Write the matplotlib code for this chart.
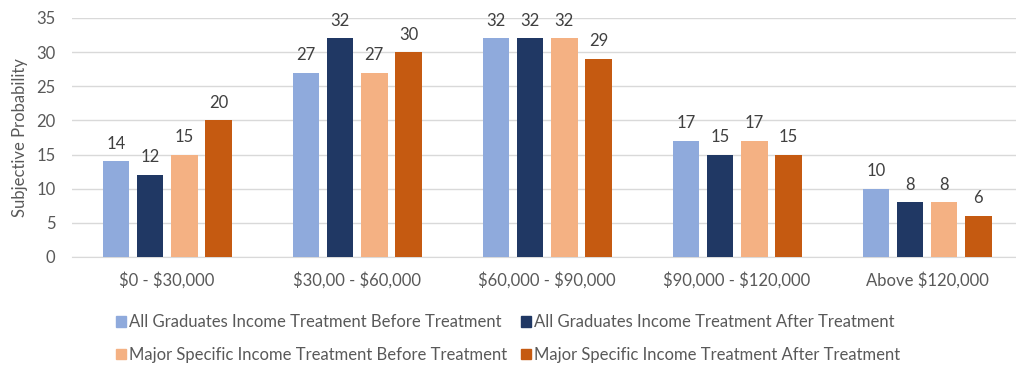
import numpy as np
import matplotlib.pyplot as plt
from matplotlib.patches import Patch

categories = ["$0 - $30,000", "$30,00 - $60,000", "$60,000 - $90,000",
              "$90,000 - $120,000", "Above $120,000"]
series_names = ["All Graduates Income Treatment Before Treatment",
                "All Graduates Income Treatment After Treatment",
                "Major Specific Income Treatment Before Treatment",
                "Major Specific Income Treatment After Treatment"]
all_before = [14, 27, 32, 17, 10]
all_after = [12, 32, 32, 15, 8]
major_before = [15, 27, 32, 17, 8]
major_after = [20, 30, 29, 15, 6]
colors = ["#8FAADC", "#203864", "#F4B183", "#C55A11"]

plt.rcParams['font.family'] = ['Lato', 'DejaVu Sans']
text_color = "#595959"
fs = 12

fig = plt.figure(figsize=(10.16, 3.67), dpi=100)
ax = fig.add_axes([0.071, 0.30, 0.935, 0.651])

x = np.arange(len(categories))
width = 0.14
step = 0.18
for i, (vals, name, c) in enumerate(zip([all_before, all_after, major_before, major_after],
                                        series_names, colors)):
    pos = x + (i - 1.5) * step
    bars = ax.bar(pos, vals, width, color=c, label=name, zorder=3)
    for b, v in zip(bars, vals):
        ax.text(b.get_x() + b.get_width() / 2, v + 1.4, str(v), ha="center", va="bottom",
                fontsize=fs, color="#404040")

ax.set_xlim(-0.5, len(categories) - 0.5)
ax.set_ylim(0, 35)
ax.set_yticks(range(0, 36, 5))
ax.set_xticks(x)
ax.set_xticklabels([c.replace("$", r"\$") for c in categories])
ax.tick_params(axis="both", length=0, labelsize=fs, labelcolor=text_color)
ax.tick_params(axis="x", pad=11)
ax.tick_params(axis="y", pad=12)
ax.set_ylabel("Subjective Probability", fontsize=fs, color=text_color, labelpad=6)
ax.grid(axis="y", color="#D9D9D9", linewidth=1, zorder=0)
for s in ["top", "right", "left"]:
    ax.spines[s].set_visible(False)
ax.spines["bottom"].set_color("#D9D9D9")

# legend fills column-wise, reorder so rows read like the original
handles = [Patch(color=c, label=n) for c, n in zip(colors, series_names)]
handles = [handles[0], handles[2], handles[1], handles[3]]
fig.legend(handles=handles, ncol=2, loc="lower center", bbox_to_anchor=(0.5, -0.03),
           frameon=False, fontsize=fs, labelcolor=text_color, handlelength=0.6,
           handleheight=0.6, handletextpad=0.2, columnspacing=0.8, labelspacing=1.0)

fig.savefig("out.png", dpi=100)
